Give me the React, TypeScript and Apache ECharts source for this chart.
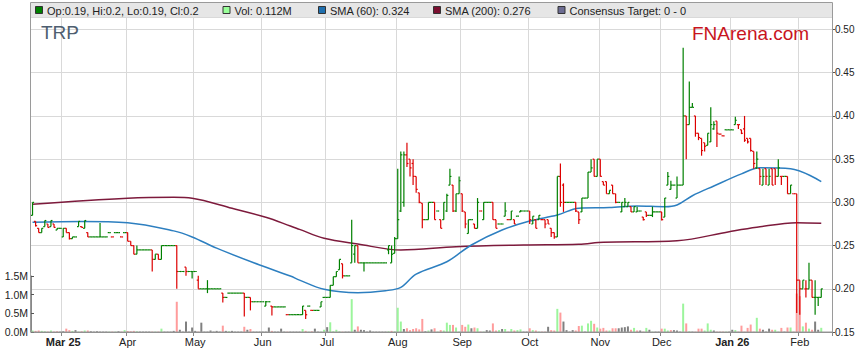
import React, { useEffect, useRef } from "react";
import * as echarts from "echarts";

// ---- data ----
const startDate = "2025-02-17";
const categoryCount = 261;
const monthTickLabels = ["Mar 25", "Apr", "May", "Jun", "Jul", "Aug", "Sep", "Oct", "Nov", "Dec", "Jan 26", "Feb"];
const boldTickLabels = ["Mar 25", "Jan 26"];
const priceTicks = { min: 0.15, max: 0.5145, step: 0.05 };
const volumeTicks = { min: 0, max: 1.5, step: 0.5 };

const opens = [
  .285,.278,.27,.265,.272,.275,.272,.275,.268,.27,
  .26,.27,.265,.258,.26,.272,.272,.27,.265,.26,
  .26,.26,.26,.26,.26,.265,.26,.265,.265,.26,
  .265,.265,.255,.25,.24,.245,.245,.245,.245,.245,
  .234,.24,.234,.25,.25,.25,.25,.25,.22,.22,
  .225,.22,.22,.22,.21,.20,.20,.20,.20,.20,
  .20,.20,.195,.19,.195,.195,.195,.195,.195,.195,
  .19,.19,.185,.185,.185,.185,.18,.185,.18,.179,
  .179,.179,.179,.17,.17,.17,.17,.17,.17,.175,
  .18,.175,.175,.175,.179,.19,.19,.19,.204,.214,
  .222,.229,.215,.215,.23,.24,.25,.23,.23,.23,
  .23,.23,.23,.23,.23,.23,.245,.23,.241,.258,
  .29,.30,.355,.35,.345,.33,.311,.299,.28,.28,
  .30,.30,.29,.28,.28,.29,.32,.32,.29,.31,
  .31,.289,.264,.28,.275,.27,.29,.28,.30,.30,
  .30,.28,.275,.275,.284,.28,.28,.28,.284,.289,
  .29,.29,.29,.275,.28,.28,.28,.28,.28,.27,
  .265,.26,.33,.32,.30,.30,.30,.30,.289,.289,
  .305,.305,.335,.35,.33,.35,.324,.324,.31,.32,
  .31,.30,.289,.295,.295,.295,.289,.289,.29,.283,
  .289,.285,.285,.289,.289,.289,.283,.32,.315,.32,
  .305,.32,.32,.40,.39,.41,.40,.38,.374,.369,
  .366,.37,.385,.394,.379,.377,.384,.384,.384,.39,
  .39,.384,.385,.374,.374,.359,.34,.339,.32,.339,
  .32,.339,.339,.33,.33,.33,.33,.31,.31,.31,
  .21,.20,.20,.20,.21,.19,.19,.19,
];
const highs = [
  .30,.278,.27,.27,.279,.275,.279,.275,.27,.27,
  .27,.27,.265,.26,.26,.278,.272,.279,.265,.26,
  .26,.26,.276,.26,.26,.265,.26,.265,.265,.26,
  .265,.265,.255,.25,.25,.245,.245,.245,.245,.245,
  .24,.24,.25,.25,.25,.25,.25,.25,.22,.22,
  .225,.22,.22,.22,.215,.20,.20,.21,.20,.20,
  .20,.20,.195,.19,.195,.195,.195,.195,.195,.195,
  .19,.19,.185,.185,.185,.185,.186,.185,.18,.179,
  .179,.179,.179,.17,.17,.17,.17,.17,.18,.175,
  .18,.175,.175,.175,.185,.19,.19,.204,.214,.22,
  .234,.229,.215,.215,.28,.25,.25,.23,.23,.23,
  .23,.23,.23,.23,.23,.23,.25,.25,.26,.339,
  .359,.359,.369,.35,.35,.33,.311,.299,.28,.30,
  .30,.30,.29,.28,.30,.31,.339,.32,.31,.33,
  .31,.289,.28,.28,.275,.305,.29,.30,.30,.30,
  .30,.28,.275,.275,.30,.28,.29,.28,.284,.291,
  .29,.29,.29,.284,.28,.285,.28,.28,.28,.27,
  .265,.33,.345,.322,.30,.30,.30,.30,.289,.305,
  .305,.335,.35,.35,.35,.35,.324,.324,.314,.32,
  .31,.30,.30,.305,.30,.295,.295,.295,.29,.283,
  .289,.285,.295,.289,.289,.289,.305,.335,.325,.32,
  .33,.32,.479,.40,.44,.415,.40,.38,.374,.369,
  .38,.41,.394,.394,.379,.377,.384,.384,.384,.399,
  .39,.384,.40,.374,.374,.359,.359,.339,.339,.339,
  .339,.339,.339,.35,.33,.33,.33,.32,.31,.31,
  .21,.21,.21,.23,.21,.21,.19,.20,
];
const lows = [
  .285,.272,.265,.265,.272,.271,.272,.271,.268,.27,
  .26,.265,.257,.258,.26,.272,.271,.27,.26,.26,
  .26,.26,.26,.26,.26,.265,.26,.265,.265,.26,
  .265,.255,.25,.24,.24,.245,.245,.245,.245,.22,
  .234,.234,.234,.25,.25,.25,.25,.20,.22,.22,
  .215,.22,.212,.22,.20,.20,.20,.195,.20,.20,
  .20,.20,.184,.19,.195,.195,.195,.195,.195,.168,
  .19,.175,.185,.185,.185,.185,.18,.185,.169,.179,
  .179,.179,.179,.17,.17,.17,.17,.17,.17,.165,
  .18,.175,.175,.175,.179,.19,.19,.19,.204,.214,
  .222,.212,.215,.215,.23,.23,.23,.23,.22,.23,
  .23,.23,.23,.23,.23,.23,.24,.23,.241,.258,
  .289,.295,.341,.33,.32,.311,.299,.27,.28,.28,
  .30,.28,.29,.27,.28,.289,.32,.289,.289,.31,
  .289,.27,.264,.28,.27,.27,.29,.28,.30,.30,
  .28,.27,.275,.275,.284,.28,.28,.275,.284,.289,
  .29,.29,.275,.275,.27,.28,.28,.27,.275,.26,
  .258,.26,.295,.289,.30,.30,.30,.289,.275,.289,
  .305,.305,.335,.33,.33,.33,.32,.31,.31,.31,
  .299,.30,.289,.295,.295,.289,.289,.289,.29,.279,
  .283,.285,.283,.289,.289,.279,.283,.32,.315,.32,
  .305,.32,.32,.35,.39,.41,.376,.372,.354,.359,
  .366,.37,.384,.364,.379,.377,.384,.384,.384,.39,
  .385,.379,.37,.368,.359,.339,.339,.32,.32,.32,
  .32,.32,.32,.33,.32,.33,.31,.31,.31,.172,
  .17,.20,.19,.20,.19,.17,.18,.19,
];
const closes = [
  .30,.273,.265,.27,.279,.271,.279,.271,.27,.27,
  .27,.265,.258,.26,.26,.278,.271,.279,.26,.26,
  .26,.26,.26,.26,.26,.265,.26,.265,.265,.26,
  .265,.255,.25,.24,.245,.245,.245,.245,.245,.234,
  .24,.234,.25,.25,.25,.25,.25,.22,.22,.22,
  .22,.22,.22,.22,.20,.20,.20,.20,.20,.20,
  .20,.20,.19,.19,.195,.195,.195,.195,.195,.19,
  .19,.185,.185,.185,.185,.185,.185,.185,.179,.179,
  .179,.179,.179,.17,.17,.17,.17,.17,.18,.17,
  .18,.175,.175,.175,.185,.19,.19,.204,.214,.22,
  .234,.215,.215,.215,.25,.25,.23,.23,.23,.23,
  .23,.23,.23,.23,.23,.23,.25,.24,.258,.28,
  .355,.355,.345,.34,.33,.315,.30,.28,.28,.30,
  .30,.28,.29,.27,.30,.308,.33,.29,.31,.325,
  .29,.275,.28,.28,.27,.30,.29,.30,.30,.30,
  .28,.27,.275,.275,.29,.28,.29,.275,.284,.29,
  .29,.29,.28,.284,.27,.285,.28,.275,.275,.265,
  .26,.33,.30,.30,.30,.30,.30,.29,.28,.305,
  .305,.335,.34,.33,.35,.33,.32,.31,.314,.31,
  .30,.30,.30,.30,.30,.289,.295,.29,.29,.28,
  .285,.285,.289,.289,.289,.28,.305,.33,.32,.32,
  .32,.32,.40,.39,.41,.41,.38,.375,.36,.365,
  .38,.39,.39,.38,.379,.377,.384,.384,.384,.395,
  .39,.38,.372,.37,.36,.345,.35,.33,.33,.33,
  .33,.32,.33,.34,.33,.33,.31,.32,.31,.21,
  .20,.21,.20,.21,.19,.19,.19,.20,
];
const volumes = [
  .04,.03,.04,.03,.02,.01,.04,.01,.02,.01,
  .02,.09,.05,.03,.05,.01,.02,.04,.04,.02,
  .01,.02,.01,.01,.01,.01,.01,.01,.02,.01,
  .05,.03,.02,.03,.02,.01,.01,.01,.01,.01,
  .01,.01,.09,.01,.01,.01,.03,.81,.06,.01,
  .28,.01,.12,.03,.01,.25,.01,.01,.04,.01,
  .03,.01,.17,.03,.02,.03,.01,.01,.01,.14,
  .06,.08,.01,.01,.01,.01,.01,.12,.03,.01,
  .01,.09,.01,.01,.01,.01,.01,.01,.08,.03,
  .01,.02,.09,.01,.01,.06,.13,.26,.02,.06,
  .02,.01,.01,.01,.88,.06,.15,.06,.05,.01,
  .04,.01,.01,.01,.01,.01,.02,.03,.02,.65,
  .28,.08,.10,.05,.08,.10,.07,.35,.02,.04,
  .07,.10,.01,.05,.04,.25,.19,.19,.12,.01,
  .19,.14,.20,.10,.12,.10,.01,.01,.05,.04,
  .23,.04,.05,.08,.08,.01,.08,.04,.05,.07,
  .01,.01,.10,.05,.04,.01,.01,.01,.14,.05,
  .04,.62,.52,.28,.05,.01,.05,.04,.16,.17,
  .01,.23,.30,.22,.12,.09,.11,.04,.04,.10,
  .10,.10,.12,.13,.15,.06,.11,.04,.04,.01,
  .11,.06,.01,.01,.01,.09,.09,.04,.05,.05,
  .04,.01,.76,.23,.02,.01,.01,.09,.09,.04,
  .23,.06,.04,.01,.01,.01,.01,.01,.06,.05,
  .01,.17,.01,.11,.20,.01,.38,.09,.06,.01,
  .09,.06,.06,.01,.11,.01,.12,.12,.01,1.03,
  .96,.15,.25,.09,.06,.28,.06,.112,
];
const sma60Points = [
  [0,.277],[16,.278],[31,.2765],[46,.267],[52,.26],[60,.247],[74,.2275],[84,.2148],[87,.21],
  [95,.1994],[106,.1955],[115,.1978],[120,.2017],[125,.217],[135,.2313],[143,.2507],[153,.268],
  [162,.2784],[171,.2853],[178,.2933],[188,.294],[197,.2958],[206,.295],[210,.297],[215,.3077],
  [222,.319],[231,.333],[237,.34],[247,.339],[257,.324],
];
const sma200Points = [
  [0,.2978],[31,.3047],[46,.3058],[52,.3047],[65,.2931],[76,.2827],[84,.2727],[87,.2688],
  [95,.2584],[106,.2518],[120,.2449],[138,.2487],[160,.2507],[178,.2515],[186,.2538],
  [210,.2556],[227,.266],[236,.2711],[249,.2765],[257,.2758],
];
const legendItems = [
  { label: "Op:0.19, Hi:0.2, Lo:0.19, Cl:0.2", color: "#008000" },
  { label: "Vol: 0.112M", color: "#99ff99" },
  { label: "SMA (60): 0.324", color: "#1f6fae" },
  { label: "SMA (200): 0.276", color: "#7a0f30" },
  { label: "Consensus Target: 0 - 0", color: "#6c6c92" },
];

// ---- styling constants ----
const FONT = "'Liberation Sans', Arial, sans-serif";
const UP = "#008000";
const DOWN = "#dd0000";
const VUP = "#9cf59c";
const VDOWN = "#ff9c9c";
const VFLAT = "#808080";
const GRID_L = 31;
const GRID_R = 27;
const GRID_T = 17;
const GRID_B = 31;

function weekdayCategories(start: string, count: number): string[] {
  const out: string[] = [];
  const d = new Date(start + "T00:00:00Z");
  while (out.length < count) {
    const wd = d.getUTCDay();
    if (wd !== 0 && wd !== 6) out.push(d.toISOString().slice(0, 10));
    d.setUTCDate(d.getUTCDate() + 1);
  }
  return out;
}

export default function App() {
  const ref = useRef<HTMLDivElement>(null);

  useEffect(() => {
    document.body.style.margin = "0";
    if (!ref.current) return;
    const chart = echarts.init(ref.current, null, { renderer: "svg" });

    const categories = weekdayCategories(startDate, categoryCount);
    const tickIdx: number[] = [];
    for (let i = 1; i < categories.length; i++) {
      if (categories[i].slice(5, 7) !== categories[i - 1].slice(5, 7)) tickIdx.push(i);
    }
    const tickLabelOf: Record<number, string> = {};
    tickIdx.forEach((idx, k) => (tickLabelOf[idx] = monthTickLabels[k] || ""));
    const isTick = (index: number) => tickLabelOf[index] !== undefined;

    const barColors = closes.map((c, i) => {
      const o = opens[i];
      if (c > o) return UP;
      if (c < o) return DOWN;
      const p = i > 0 ? closes[i - 1] : c;
      return c < p ? DOWN : UP;
    });
    const volData = volumes.map((v, i) => {
      const p = i > 0 ? closes[i - 1] : opens[0];
      const c = closes[i];
      return { value: [i, v], itemStyle: { color: c > p ? VUP : c < p ? VDOWN : VFLAT } };
    });
    const ohlcData = opens.map((o, i) => [i, o, highs[i], lows[i], closes[i]]);

    const graphics: any[] = [
      { type: "rect", silent: true, z: 0, shape: { x: GRID_L, y: 3, width: 859 - GRID_L - GRID_R, height: 14 }, style: { fill: "#e6e6e6" } },
      { type: "rect", silent: true, z: 100, shape: { x: GRID_L - 0.5, y: 2.5, width: 859 - GRID_L - GRID_R + 1, height: 332 - 2.5 }, style: { fill: "none", stroke: "#9a9a9a", lineWidth: 1 } },
      { type: "text", silent: true, z: 50, style: { text: "TRP", x: 41, y: 32, fill: "#4e5e70", fontSize: 19, fontFamily: FONT, verticalAlign: "middle" } },
      { type: "text", silent: true, z: 50, style: { text: "FNArena.com", x: 692, y: 33, fill: "#c8141e", fontSize: 19, fontFamily: FONT, verticalAlign: "middle" } },
    ];
    const legendX = [35, 222.5, 318, 433, 557.5];
    legendItems.forEach((it, k) => {
      graphics.push({ type: "rect", silent: true, z: 60, shape: { x: legendX[k] + 0.5, y: 6.5, width: 7, height: 7 }, style: { fill: it.color, stroke: "#333", lineWidth: 1 } });
      graphics.push({ type: "text", silent: true, z: 60, style: { text: it.label, x: legendX[k] + 12, y: 10.5, fill: "#222", fontSize: 11, fontFamily: FONT, verticalAlign: "middle" } });
    });

    const option: any = {
      animation: false,
      backgroundColor: "#ffffff",
      grid: [
        { left: GRID_L, right: GRID_R, top: GRID_T, bottom: GRID_B },
        { left: GRID_L, right: GRID_R, top: 332 - 1.5 * 37.33, bottom: GRID_B },
      ],
      xAxis: [
        {
          type: "category",
          gridIndex: 0,
          data: categories,
          boundaryGap: true,
          axisLine: { show: true, lineStyle: { color: "#888", width: 1 } },
          axisTick: { show: true, interval: (i: number) => isTick(i), length: 4, lineStyle: { color: "#888" } },
          axisLabel: {
            interval: (i: number) => isTick(i),
            margin: 4,
            color: "#222",
            fontSize: 11,
            fontFamily: FONT,
            formatter: (_v: string, i: number) => {
              const t = tickLabelOf[i] || "";
              return boldTickLabels.includes(t) ? "{b|" + t + "}" : t;
            },
            rich: { b: { fontWeight: "bold", fontSize: 11, fontFamily: FONT, color: "#222" } },
          },
          splitLine: { show: true, interval: (i: number) => isTick(i), lineStyle: { color: "#d9d9d9", width: 1 } },
        },
        {
          type: "category",
          gridIndex: 1,
          data: categories,
          boundaryGap: true,
          axisLine: { show: false },
          axisTick: { show: false },
          axisLabel: { show: false },
          splitLine: { show: false },
        },
      ],
      yAxis: [
        {
          type: "value",
          gridIndex: 0,
          position: "right",
          min: priceTicks.min,
          max: priceTicks.max,
          interval: priceTicks.step,
          axisLine: { show: true, lineStyle: { color: "#888" } },
          axisTick: { show: true, length: 3, lineStyle: { color: "#555" } },
          axisLabel: { showMaxLabel: false, margin: 3, color: "#222", fontSize: 10, fontFamily: FONT, formatter: (v: number) => v.toFixed(2) },
          splitLine: { show: true, lineStyle: { color: "#d9d9d9", width: 1 } },
        },
        {
          type: "value",
          gridIndex: 1,
          position: "left",
          min: volumeTicks.min,
          max: volumeTicks.max,
          interval: volumeTicks.step,
          axisLine: { show: true, lineStyle: { color: "#888" } },
          axisTick: { show: true, inside: true, length: 3, lineStyle: { color: "#555" } },
          axisLabel: { margin: 3, color: "#222", fontSize: 10.5, fontFamily: FONT, formatter: (v: number) => v.toFixed(1) + "M" },
          splitLine: { show: false },
        },
      ],
      series: [
        {
          type: "bar",
          xAxisIndex: 1,
          yAxisIndex: 1,
          data: volData,
          barWidth: 2,
          z: 1,
        },
        {
          type: "line",
          xAxisIndex: 0,
          yAxisIndex: 0,
          data: sma200Points,
          smooth: 0.35,
          symbol: "none",
          lineStyle: { color: "#7d1a3c", width: 1.5 },
          z: 2,
        },
        {
          type: "line",
          xAxisIndex: 0,
          yAxisIndex: 0,
          data: sma60Points,
          smooth: 0.35,
          symbol: "none",
          lineStyle: { color: "#2d7fc0", width: 1.5 },
          z: 3,
        },
        {
          type: "custom",
          xAxisIndex: 0,
          yAxisIndex: 0,
          data: ohlcData,
          encode: { x: 0, y: [1, 2, 3, 4] },
          z: 4,
          renderItem: (params: any, api: any) => {
            const i = api.value(0);
            const pO = api.coord([i, api.value(1)]);
            const pH = api.coord([i, api.value(2)]);
            const pL = api.coord([i, api.value(3)]);
            const pC = api.coord([i, api.value(4)]);
            const half = api.size([1, 0])[0] * 0.5;
            const x = pO[0];
            const color = barColors[params.dataIndex];
            const st = { stroke: color, lineWidth: 1.2 };
            const kids: any[] = [
              { type: "line", shape: { x1: x - half, y1: pO[1], x2: x, y2: pO[1] }, style: st },
              { type: "line", shape: { x1: x, y1: pC[1], x2: x + half, y2: pC[1] }, style: st },
            ];
            if (pL[1] - pH[1] > 0.5) {
              kids.push({ type: "line", shape: { x1: x, y1: pH[1], x2: x, y2: pL[1] }, style: st });
            }
            return { type: "group", children: kids };
          },
        },
      ],
      graphic: graphics,
    };

    chart.setOption(option);
    return () => chart.dispose();
  }, []);

  return <div ref={ref} style={{ width: 859, height: 363 }} />;
}
